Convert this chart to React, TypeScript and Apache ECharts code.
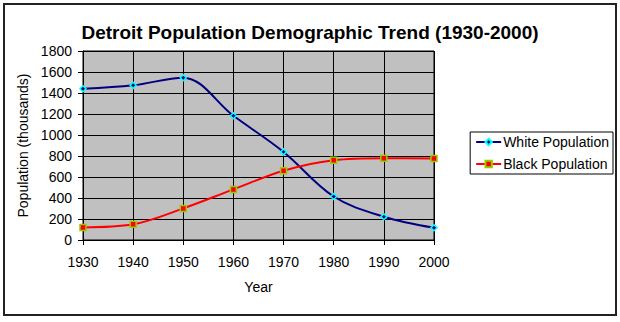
import React, { useEffect, useRef } from "react";
import * as echarts from "echarts";

const years = ["1930", "1940", "1950", "1960", "1970", "1980", "1990", "2000"];
const whitePopulation = [1440, 1473, 1546, 1183, 839, 414, 222, 117];
const blackPopulation = [120, 149, 301, 482, 660, 759, 778, 776];
const yTicks = { min: 0, max: 1800, interval: 200 };

const FONT = "'Liberation Sans', Arial, sans-serif";

export default function App() {
  const ref = useRef<HTMLDivElement>(null);
  useEffect(() => {
    if (!ref.current) return;
    const chart = echarts.init(ref.current, null, { renderer: "svg" });
    chart.setOption({
      animation: false,
      backgroundColor: "#ffffff",
      textStyle: { fontFamily: FONT },
      title: {
        text: "Detroit Population Demographic Trend (1930-2000)",
        left: "center",
        top: 18,
        textStyle: { fontFamily: FONT, fontSize: 19, fontWeight: "bold", color: "#000" },
      },
      graphic: [
        {
          type: "rect",
          shape: { x: 4, y: 4, width: 612, height: 311 },
          style: { fill: "none", stroke: "#222", lineWidth: 2 },
          silent: true,
        },
      ],
      legend: {
        orient: "vertical",
        right: 7,
        top: 132,
        itemGap: 8,
        itemWidth: 25,
        itemHeight: 8,
        borderColor: "#000",
        borderWidth: 1,
        borderRadius: 0,
        padding: [3, 4, 3, 5],
        textStyle: { fontFamily: FONT, fontSize: 14, color: "#000", padding: [0, 0, 0, -3] },
        data: ["White Population", "Black Population"],
      },
      grid: { left: 83, right: 186, top: 51, bottom: 82, show: true, backgroundColor: "#c0c0c0", borderColor: "#000", borderWidth: 1 },
      xAxis: {
        type: "category",
        data: years,
        boundaryGap: false,
        name: "Year",
        nameLocation: "middle",
        nameGap: 40,
        nameTextStyle: { fontFamily: FONT, fontSize: 14, color: "#000" },
        axisLine: { lineStyle: { color: "#000", width: 1 } },
        axisTick: { show: true, length: 5, lineStyle: { color: "#000" } },
        axisLabel: { fontFamily: FONT, fontSize: 14, color: "#000", margin: 15 },
        splitLine: { show: true, lineStyle: { color: "#000", width: 1 } },
      },
      yAxis: {
        type: "value",
        min: yTicks.min,
        max: yTicks.max,
        interval: yTicks.interval,
        name: "Population (thousands)",
        nameLocation: "middle",
        nameRotate: 90,
        nameGap: 53,
        nameTextStyle: { fontFamily: FONT, fontSize: 14, color: "#000" },
        axisLine: { show: true, lineStyle: { color: "#000", width: 1 } },
        axisTick: { show: true, length: 5, lineStyle: { color: "#000" } },
        axisLabel: { fontFamily: FONT, fontSize: 14, color: "#000", margin: 11, formatter: (v: number) => String(v) },
        splitLine: { show: true, lineStyle: { color: "#000", width: 1 } },
      },
      series: [
        {
          name: "White Population",
          type: "line",
          data: whitePopulation,
          smooth: 0.35,
          symbol: "diamond",
          symbolSize: 6,
          lineStyle: { color: "#000080", width: 2 },
          itemStyle: { color: "#000080", borderColor: "#00ffff", borderWidth: 1.5 },
        },
        {
          name: "Black Population",
          type: "line",
          data: blackPopulation,
          smooth: 0.35,
          symbol: "rect",
          symbolSize: 6,
          lineStyle: { color: "#ff0000", width: 2 },
          itemStyle: { color: "#ff0000", borderColor: "#99cc00", borderWidth: 1.5 },
        },
      ],
    });
    return () => chart.dispose();
  }, []);
  return (
    <div
      ref={ref}
      style={{ position: "fixed", left: 0, top: 0, width: 620, height: 322 }}
    />
  );
}
